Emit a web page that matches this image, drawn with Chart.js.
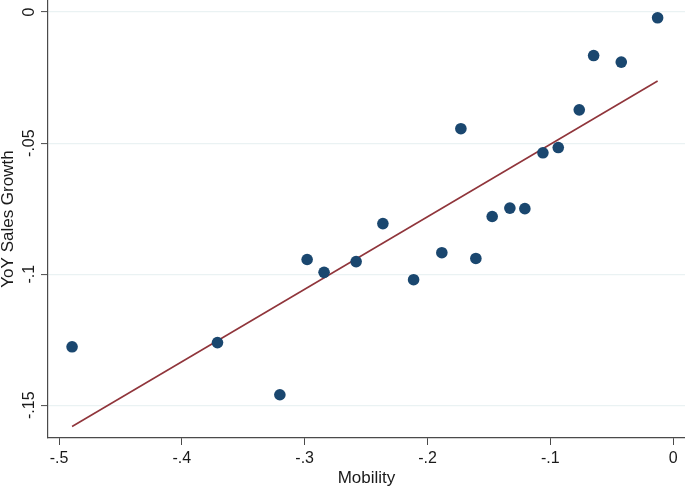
<!DOCTYPE html>
<html>
<head>
<meta charset="utf-8">
<script src="https://cdn.jsdelivr.net/npm/chart.js@4"></script>
<style>
  html, body { margin: 0; padding: 0; background: #fff; }
  #wrap { width: 685px; height: 489px; position: relative; }
</style>
</head>
<body>
<div id="wrap"><canvas id="chart"></canvas></div>
<script>
// data
const mobility = [-0.4894, -0.371, -0.3202, -0.298, -0.2842, -0.2581, -0.2363, -0.2113, -0.1883, -0.1728,
                  -0.1606, -0.1473, -0.1329, -0.1207, -0.106, -0.0935, -0.0764, -0.0647, -0.0422, -0.0126];
const salesGrowth = [-0.1277, -0.1261, -0.146, -0.0944, -0.0993, -0.0952, -0.0807, -0.1021, -0.0918, -0.0445,
                     -0.094, -0.078, -0.0748, -0.075, -0.0537, -0.0517, -0.0373, -0.0166, -0.0191, -0.0022];
const fitX = [-0.4894, -0.0126];
const fitY = [-0.1581, -0.0263];
const xTicks = [-0.5, -0.4, -0.3, -0.2, -0.1, 0];
const xTickLabels = ['-.5', '-.4', '-.3', '-.2', '-.1', '0'];
const yTicks = [0, -0.05, -0.1, -0.15];
const yTickLabels = ['0', '-.05', '-.1', '-.15'];

const fontFam = '"Liberation Sans", Arial, sans-serif';
const axisCol = '#4a4a4a';
const textCol = '#1a1a1a';

function lbl(vals, labels, v){
  const i = vals.findIndex(t => Math.abs(t - v) < 1e-9);
  return i >= 0 ? labels[i] : '';
}

// y tick labels are rotated in the original, chart.js won't rotate y ticks
const rotatedYLabels = {
  id: 'rotatedYLabels',
  afterDraw(chart){
    const y = chart.scales.y;
    const ctx = chart.ctx;
    ctx.save();
    ctx.fillStyle = textCol;
    ctx.font = '16px ' + fontFam;
    ctx.textAlign = 'center';
    ctx.textBaseline = 'middle';
    y.ticks.forEach(t => {
      const py = y.getPixelForValue(t.value);
      ctx.save();
      ctx.translate(30, py);
      ctx.rotate(-Math.PI / 2);
      ctx.fillText(lbl(yTicks, yTickLabels, t.value), 0, 0);
      ctx.restore();
    });
    ctx.restore();
  }
};

const ctx = document.getElementById('chart').getContext('2d');
const chart = new Chart(ctx, {
  type: 'scatter',
  data: {
    datasets: [
      {
        label: 'Fitted values',
        type: 'line',
        data: fitX.map((x, i) => ({ x, y: fitY[i] })),
        borderColor: '#90353b',
        borderWidth: 1.6,
        pointRadius: 0,
        fill: false,
        order: 2
      },
      {
        label: 'YoY Sales Growth',
        data: mobility.map((x, i) => ({ x, y: salesGrowth[i] })),
        backgroundColor: '#1a476f',
        borderColor: '#1a476f',
        pointRadius: 5.8,
        borderWidth: 0,
        order: 1
      }
    ]
  },
  options: {
    responsive: true,
    maintainAspectRatio: false,
    animation: false,
    layout: { padding: 0, autoPadding: false },
    plugins: { legend: { display: false }, tooltip: { enabled: false } },
    scales: {
      x: {
        type: 'linear',
        min: -0.509,
        max: 0.0097,
        afterBuildTicks: s => { s.ticks = xTicks.map(v => ({ value: v })); },
        afterFit: s => { s.height = 51; s.paddingLeft = 0; s.paddingRight = 0; },
        ticks: {
          color: textCol,
          font: { family: fontFam, size: 16 },
          padding: 4,
          maxRotation: 0,
          callback: v => lbl(xTicks, xTickLabels, v)
        },
        grid: { drawOnChartArea: false, drawTicks: true, tickLength: 7, tickColor: axisCol, tickWidth: 1 },
        border: { color: axisCol, width: 1.2 },
        title: {
          display: true,
          text: 'Mobility',
          color: textCol,
          font: { family: fontFam, size: 17, lineHeight: 1.2 },
          padding: 0
        }
      },
      y: {
        type: 'linear',
        min: -0.1625,
        max: 0.0046,
        afterBuildTicks: s => { s.ticks = yTicks.map(v => ({ value: v })); },
        afterFit: s => { s.width = 48; s.paddingTop = 0; s.paddingBottom = 0; },
        ticks: { display: false },
        grid: { color: '#eaf2f3', lineWidth: 1.2, drawTicks: true, tickLength: 7, tickColor: axisCol, tickWidth: 1 },
        border: { color: axisCol, width: 1.2 },
        title: {
          display: true,
          text: 'YoY Sales Growth',
          color: textCol,
          font: { family: fontFam, size: 17, lineHeight: 1 },
          padding: 0
        }
      }
    }
  },
  plugins: [rotatedYLabels]
});
</script>
</body>
</html>
